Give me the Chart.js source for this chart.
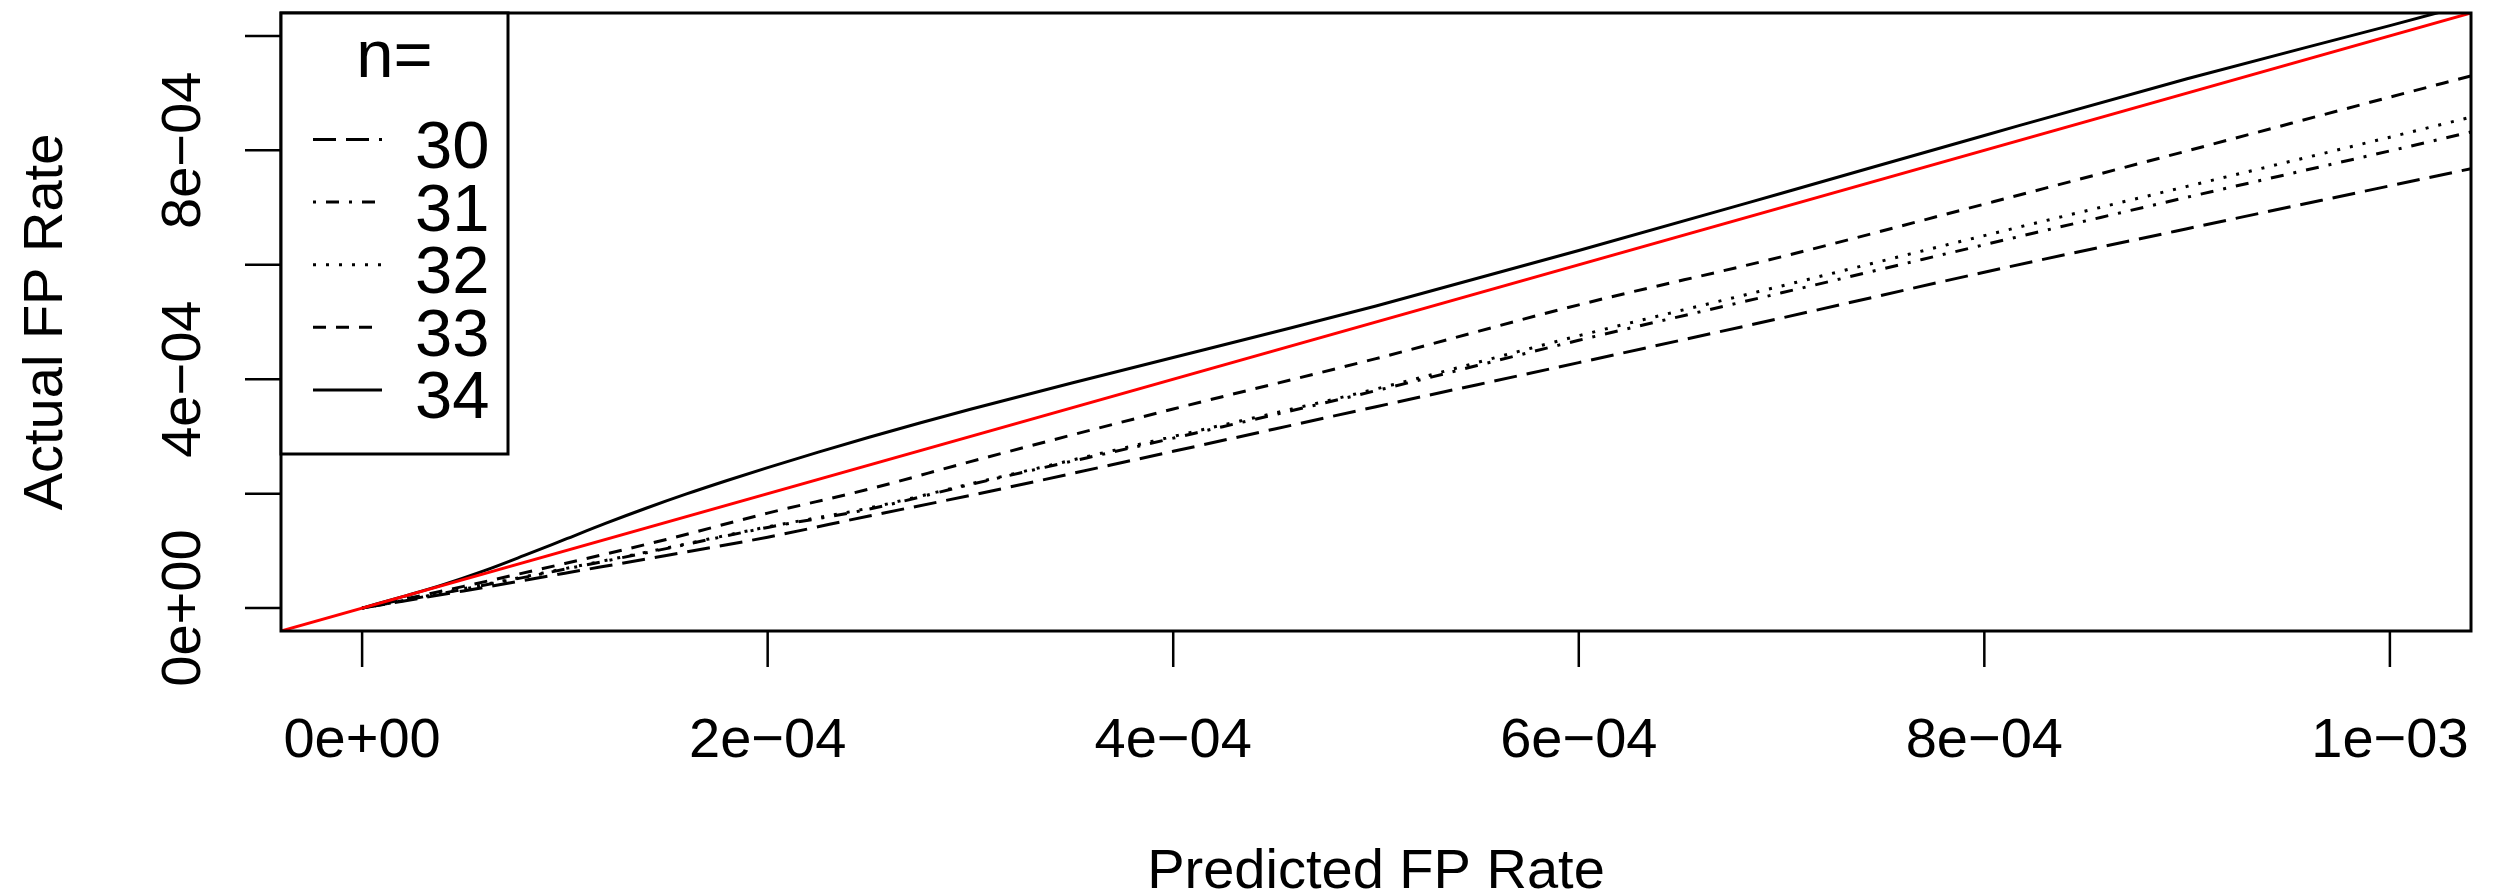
<!DOCTYPE html>
<html>
<head>
<meta charset="utf-8">
<script src="https://cdn.jsdelivr.net/npm/chart.js@4/dist/chart.umd.min.js"></script>
<style>
  html, body { margin: 0; padding: 0; background: #fff; }
  #wrap { width: 2495px; height: 896px; }
</style>
</head>
<body>
<div id="wrap"><canvas id="c" width="2495" height="896"></canvas></div>
<script>
// Predicted vs. actual false-positive rate for several n
const seriesNames = ['30', '31', '32', '33', '34'];

const predictedRate = [0, 2e-5, 5e-5, 1e-4, 1.5e-4, 2e-4, 2.5e-4, 3e-4, 4e-4, 5e-4, 6e-4, 7e-4, 8e-4, 9e-4, 1e-3, 1.04e-3];
const actual30 = [0, 1.2e-5, 3.0e-5, 6.1e-5, 9.2e-5, 1.24e-4, 1.61e-4, 1.97e-4, 2.74e-4, 3.52e-4, 4.29e-4, 5.07e-4, 5.87e-4, 6.63e-4, 7.38e-4, 7.68e-4];
const actual31 = [0, 1.3e-5, 3.3e-5, 6.8e-5, 1.04e-4, 1.41e-4, 1.73e-4, 2.16e-4, 2.97e-4, 3.80e-4, 4.68e-4, 5.51e-4, 6.35e-4, 7.18e-4, 7.99e-4, 8.32e-4];
const actual32 = [0, 1.3e-5, 3.4e-5, 6.9e-5, 1.05e-4, 1.42e-4, 1.75e-4, 2.17e-4, 3.00e-4, 3.83e-4, 4.76e-4, 5.63e-4, 6.51e-4, 7.37e-4, 8.23e-4, 8.58e-4];
const actual33 = [0, 1.5e-5, 3.8e-5, 7.8e-5, 1.20e-4, 1.66e-4, 2.08e-4, 2.56e-4, 3.48e-4, 4.36e-4, 5.30e-4, 6.14e-4, 7.06e-4, 7.99e-4, 8.93e-4, 9.30e-4];

const predictedRate34 = [0, 2e-5, 4e-5, 6e-5, 8e-5, 1e-4, 1.2e-4, 1.4e-4, 1.6e-4, 1.8e-4, 2e-4, 2.25e-4, 2.5e-4, 2.75e-4, 3e-4, 3.5e-4, 4e-4, 4.5e-4, 5e-4, 6e-4, 7e-4, 8e-4, 9e-4, 1e-3, 1.04e-3];
const actual34 = [0, 2.0e-5, 4.1e-5, 6.5e-5, 9.2e-5, 1.20e-4, 1.48e-4, 1.745e-4, 1.995e-4, 2.23e-4, 2.455e-4, 2.725e-4, 2.985e-4, 3.235e-4, 3.475e-4, 3.935e-4, 4.38e-4, 4.825e-4, 5.28e-4, 6.25e-4, 7.25e-4, 8.26e-4, 9.25e-4, 1.018e-3, 1.056e-3];

// axis ranges, ticks and labels
const axisMin = -4e-5;
const axisMax = 1.04e-3;
const xTickValues = [0, 2e-4, 4e-4, 6e-4, 8e-4, 1e-3];
const xTickLabels = ['0e+00', '2e\u221204', '4e\u221204', '6e\u221204', '8e\u221204', '1e\u221203'];
const yTickValues = [0, 2e-4, 4e-4, 6e-4, 8e-4, 1e-3];
const yLabelValues = [0, 4e-4, 8e-4];
const yTickLabels = ['0e+00', '4e\u221204', '8e\u221204'];

const xTitle = 'Predicted FP Rate';
const yTitle = 'Actual FP Rate';
const legendTitle = 'n=';

// line styles per series
const dashes = [[23, 10], [3, 10, 13, 10], [3, 10], [13, 10], []];
const FONT = '"Liberation Sans", Arial, Helvetica, sans-serif';

function pts(xs, ys) { return xs.map((v, i) => ({ x: v, y: ys[i] })); }

const seriesData = [
  pts(predictedRate, actual30),
  pts(predictedRate, actual31),
  pts(predictedRate, actual32),
  pts(predictedRate, actual33),
  pts(predictedRate34, actual34)
];

const datasets = [{
  label: 'y = x',
  data: [{ x: axisMin, y: axisMin }, { x: axisMax, y: axisMax }],
  borderColor: '#ff0000',
  borderWidth: 3,
  pointRadius: 0,
  fill: false,
  clip: 0
}];
seriesNames.forEach((name, i) => {
  datasets.push({
    label: name,
    data: seriesData[i],
    borderColor: '#000',
    borderWidth: 3,
    borderDash: dashes[i],
    borderCapStyle: 'butt',
    pointRadius: 0,
    fill: false,
    cubicInterpolationMode: 'monotone',
    clip: 0
  });
});

// frame, ticks, labels, titles and the legend box
const decorations = {
  id: 'decorations',
  afterDraw(chart) {
    const { ctx, chartArea: a, scales: { x, y } } = chart;
    ctx.save();
    ctx.strokeStyle = '#000';
    ctx.fillStyle = '#000';
    ctx.setLineDash([]);

    // plot box
    ctx.lineWidth = 3;
    ctx.strokeRect(a.left, a.top, a.right - a.left, a.bottom - a.top);

    // tick marks
    ctx.lineWidth = 2.5;
    ctx.beginPath();
    xTickValues.forEach(v => {
      const px = x.getPixelForValue(v);
      ctx.moveTo(px, a.bottom); ctx.lineTo(px, a.bottom + 36);
    });
    yTickValues.forEach(v => {
      const py = y.getPixelForValue(v);
      ctx.moveTo(a.left, py); ctx.lineTo(a.left - 36, py);
    });
    ctx.stroke();

    // tick labels
    ctx.font = '56px ' + FONT;
    ctx.textAlign = 'center';
    ctx.textBaseline = 'alphabetic';
    xTickValues.forEach((v, i) => {
      ctx.fillText(xTickLabels[i], x.getPixelForValue(v), a.bottom + 126);
    });
    yLabelValues.forEach((v, i) => {
      ctx.save();
      ctx.translate(a.left - 81, y.getPixelForValue(v));
      ctx.rotate(-Math.PI / 2);
      ctx.fillText(yTickLabels[i], 0, 0);
      ctx.restore();
    });

    // axis titles
    ctx.fillText(xTitle, (a.left + a.right) / 2, 888);
    ctx.save();
    ctx.translate(62, (a.top + a.bottom) / 2);
    ctx.rotate(-Math.PI / 2);
    ctx.fillText(yTitle, 0, 0);
    ctx.restore();

    // legend
    const lx = a.left, ly = a.top, lw = 227, lh = 441;
    ctx.fillStyle = '#fff';
    ctx.fillRect(lx, ly, lw, lh);
    ctx.fillStyle = '#000';
    ctx.lineWidth = 3;
    ctx.strokeRect(lx, ly, lw, lh);
    ctx.font = '67px ' + FONT;
    ctx.textAlign = 'center';
    ctx.fillText(legendTitle, lx + lw / 2, ly + 64);
    ctx.textAlign = 'left';
    seriesNames.forEach((name, i) => {
      const yy = ly + 126.5 + i * 62.6;
      ctx.setLineDash(dashes[i]);
      ctx.lineCap = 'butt';
      ctx.beginPath();
      ctx.moveTo(lx + 32, yy);
      ctx.lineTo(lx + 101, yy);
      ctx.stroke();
      ctx.setLineDash([]);
      ctx.fillText(name, lx + 134, yy + 28.5);
    });
    ctx.restore();
  }
};

new Chart(document.getElementById('c'), {
  type: 'line',
  data: { datasets },
  options: {
    responsive: false,
    animation: false,
    parsing: true,
    layout: { padding: { left: 281, right: 24, top: 13, bottom: 265 } },
    plugins: { legend: { display: false }, tooltip: { enabled: false } },
    scales: {
      x: { type: 'linear', min: axisMin, max: axisMax, display: false },
      y: { type: 'linear', min: axisMin, max: axisMax, display: false }
    }
  },
  plugins: [decorations]
});
</script>
</body>
</html>
